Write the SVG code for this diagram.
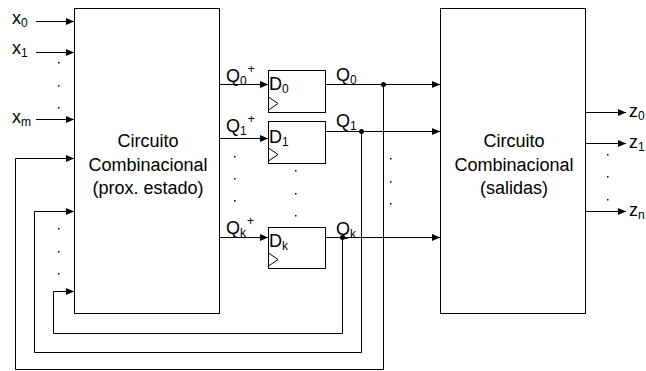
<svg xmlns="http://www.w3.org/2000/svg" width="646" height="371" viewBox="0 0 646 371">
<style>
.b{fill:#fff;stroke:#000;stroke-width:1}
.w{fill:none;stroke:#000;stroke-width:1}
.t{font-family:"Liberation Sans",Arial,sans-serif;font-size:18px;fill:#000}
.l{font-family:"Liberation Sans",Arial,sans-serif;font-size:18px;fill:#000}
.s{font-size:12px}
.d{fill:#000}
</style>
<defs>
<marker id="a" markerUnits="userSpaceOnUse" markerWidth="9" markerHeight="7" refX="8" refY="3.5" orient="auto"><path d="M0,0 L8,3.5 L0,7 z" fill="#000"/></marker>
</defs>
<g id="comb1"><rect class="b" x="74.5" y="8.5" width="145" height="305"/>
<text class="t" text-anchor="middle" x="148" y="147">Circuito</text>
<text class="t" text-anchor="middle" x="148" y="171">Combinacional</text>
<text class="t" text-anchor="middle" x="148" y="194">(prox. estado)</text></g>
<g id="comb2"><rect class="b" x="440.5" y="8.5" width="145" height="305"/>
<text class="t" text-anchor="middle" x="514" y="147">Circuito</text>
<text class="t" text-anchor="middle" x="514" y="171">Combinacional</text>
<text class="t" text-anchor="middle" x="514" y="194">(salidas)</text></g>
<g id="ff0"><rect class="b" x="268.5" y="70.5" width="57" height="42"/><path class="w" d="M268.5,97 L278,103.5 L268.5,110"/><text class="l" x="269" y="90">D<tspan class="s" dy="3">0</tspan></text></g>
<g id="ff1"><rect class="b" x="268.5" y="121.5" width="57" height="42"/><path class="w" d="M268.5,148 L278,154.5 L268.5,161"/><text class="l" x="269" y="143">D<tspan class="s" dy="3">1</tspan></text></g>
<g id="ffk"><rect class="b" x="268.5" y="227.5" width="57" height="41"/><path class="w" d="M268.5,253 L278,259.5 L268.5,266"/><text class="l" x="269" y="247">D<tspan class="s" dy="3">k</tspan></text></g>
<g id="connectors">
<path class="w" marker-end="url(#a)" d="M36,21.5 H74"/>
<path class="w" marker-end="url(#a)" d="M36,52.5 H74"/>
<path class="w" marker-end="url(#a)" d="M36,119.5 H74"/>
<path class="w" marker-end="url(#a)" d="M15.5,369.5 V158.5 H74"/>
<path class="w" marker-end="url(#a)" d="M34.5,352.5 V211.5 H74"/>
<path class="w" marker-end="url(#a)" d="M53.5,333.5 V291.5 H74"/>
<path class="w" d="M15.5,369.5 H383.5 V84.5"/>
<path class="w" d="M34.5,352.5 H361.5 V131.5"/>
<path class="w" d="M53.5,333.5 H342.5 V237.5"/>
<path class="w" marker-end="url(#a)" d="M220,84.5 H268"/>
<path class="w" marker-end="url(#a)" d="M220,138.5 H268"/>
<path class="w" marker-end="url(#a)" d="M220,237.5 H268"/>
<path class="w" marker-end="url(#a)" d="M326,84.5 H440"/>
<path class="w" marker-end="url(#a)" d="M326,131.5 H440"/>
<path class="w" marker-end="url(#a)" d="M326,237.5 H440"/>
<path class="w" marker-end="url(#a)" d="M586,112.5 H626"/>
<path class="w" marker-end="url(#a)" d="M586,143.5 H626"/>
<path class="w" marker-end="url(#a)" d="M586,211.5 H626"/>
<circle class="d" cx="383.5" cy="84.5" r="2.5"/>
<circle class="d" cx="361.5" cy="131.5" r="2.5"/>
<circle class="d" cx="342.5" cy="237.5" r="2.5"/>
</g>
<g id="labels">
<text class="l" x="12" y="24">x<tspan class="s" dy="3">0</tspan></text>
<text class="l" x="12" y="54">x<tspan class="s" dy="3">1</tspan></text>
<text class="l" x="12" y="123">x<tspan class="s" dy="3">m</tspan></text>
<text class="l" x="226" y="82">Q<tspan class="s" dy="3">0</tspan><tspan class="s" dx="1" dy="-12">+</tspan></text>
<text class="l" x="226" y="132">Q<tspan class="s" dy="3">1</tspan><tspan class="s" dx="1" dy="-12">+</tspan></text>
<text class="l" x="226" y="234">Q<tspan class="s" dy="3">k</tspan><tspan class="s" dx="1" dy="-12">+</tspan></text>
<text class="l" x="336" y="81">Q<tspan class="s" dy="3">0</tspan></text>
<text class="l" x="336" y="127">Q<tspan class="s" dy="3">1</tspan></text>
<text class="l" x="336" y="235">Q<tspan class="s" dy="3">k</tspan></text>
<text class="l" x="629" y="117">z<tspan class="s" dy="3">0</tspan></text>
<text class="l" x="629" y="148">z<tspan class="s" dy="3">1</tspan></text>
<text class="l" x="629" y="216">z<tspan class="s" dy="3">n</tspan></text>
</g>
<g id="dots" class="d">
<rect x="58" y="62" width="1.5" height="1.5"/><rect x="58" y="85" width="1.5" height="1.5"/><rect x="58" y="107" width="1.5" height="1.5"/>
<rect x="58" y="228" width="1.5" height="1.5"/><rect x="58" y="251" width="1.5" height="1.5"/><rect x="58" y="273" width="1.5" height="1.5"/>
<rect x="234" y="156" width="1.5" height="1.5"/><rect x="234" y="178" width="1.5" height="1.5"/><rect x="234" y="200" width="1.5" height="1.5"/>
<rect x="295" y="170" width="1.5" height="1.5"/><rect x="295" y="193" width="1.5" height="1.5"/><rect x="295" y="215" width="1.5" height="1.5"/>
<rect x="390" y="158" width="1.5" height="1.5"/><rect x="390" y="181" width="1.5" height="1.5"/><rect x="390" y="203" width="1.5" height="1.5"/>
<rect x="607" y="154" width="1.5" height="1.5"/><rect x="607" y="176" width="1.5" height="1.5"/><rect x="607" y="199" width="1.5" height="1.5"/>
</g>
</svg>
